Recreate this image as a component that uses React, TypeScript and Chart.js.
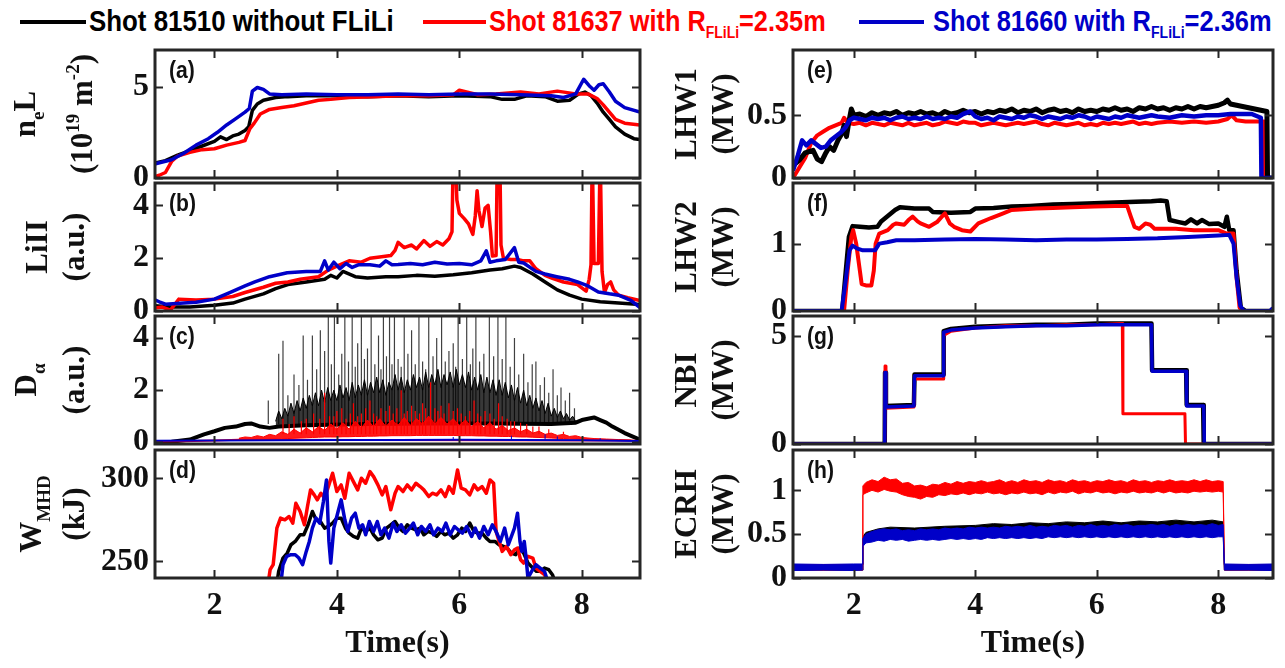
import React, { useEffect, useLayoutEffect, useRef } from 'react';
import { Chart, registerables } from 'chart.js';
Chart.register(...registerables);

// ---------------- DATA ----------------
const SHOTS = ['81510', '81637', '81660'];
const X_TICKS = [2, 4, 6, 8];

// (a) line-integrated density n_eL (10^19 m^-2)
const neL_81510 = [[1.0,0.8],[1.2,0.95],[1.4,1.25],[1.6,1.5],[1.8,1.75],[2.0,2.0],[2.1,2.25],[2.2,2.1],[2.3,2.3],[2.4,2.4],[2.5,2.6],[2.56,2.8],[2.62,3.7],[2.7,4.05],[2.8,4.25],[3.0,4.4],[3.2,4.45],[3.5,4.5],[4.0,4.5],[4.5,4.45],[5.0,4.5],[5.5,4.45],[6.0,4.5],[6.5,4.45],[6.7,4.3],[6.9,4.3],[7.1,4.5],[7.4,4.45],[7.6,4.2],[7.8,4.25],[7.95,4.6],[8.05,4.7],[8.15,4.5],[8.25,4.1],[8.35,3.6],[8.45,3.2],[8.55,2.8],[8.7,2.4],[8.85,2.15],[8.95,2.1]];
const neL_81637 = [[1.0,0.05],[1.1,0.15],[1.2,0.3],[1.3,0.9],[1.4,1.2],[1.6,1.4],[1.8,1.55],[2.0,1.6],[2.2,1.8],[2.4,1.95],[2.5,2.05],[2.58,2.7],[2.65,3.0],[2.75,3.5],[2.9,3.75],[3.1,3.85],[3.3,3.95],[3.5,4.1],[3.7,4.25],[3.9,4.3],[4.2,4.4],[4.6,4.45],[5.0,4.5],[5.5,4.5],[5.9,4.55],[6.0,4.8],[6.3,4.55],[6.6,4.6],[7.0,4.7],[7.3,4.6],[7.6,4.75],[7.9,4.6],[8.1,4.6],[8.25,4.35],[8.35,4.0],[8.45,3.6],[8.55,3.2],[8.7,3.0],[8.95,2.9]];
const neL_81660 = [[1.0,0.75],[1.3,1.0],[1.5,1.35],[1.7,1.8],[1.9,2.15],[2.05,2.5],[2.2,2.9],[2.35,3.25],[2.5,3.6],[2.57,3.8],[2.62,4.75],[2.7,4.95],[2.8,4.85],[2.9,4.6],[3.1,4.55],[3.5,4.6],[4.0,4.55],[4.5,4.55],[5.0,4.6],[5.5,4.55],[6.0,4.6],[6.5,4.6],[7.0,4.55],[7.5,4.5],[7.7,4.4],[7.9,4.6],[8.03,5.4],[8.12,5.05],[8.2,4.8],[8.28,5.1],[8.35,5.15],[8.45,4.7],[8.55,4.2],[8.7,3.85],[8.95,3.6]];

// (b) LiII (a.u.)
const liII_81510 = [[1.0,0.2],[1.3,0.15],[1.6,0.15],[2.0,0.22],[2.3,0.3],[2.5,0.45],[2.8,0.65],[3.0,0.85],[3.2,1.0],[3.5,1.1],[3.8,1.2],[3.9,1.35],[4.0,1.25],[4.1,1.5],[4.3,1.3],[4.5,1.25],[4.8,1.3],[5.0,1.3],[5.3,1.35],[5.6,1.32],[5.9,1.37],[6.2,1.45],[6.5,1.55],[6.7,1.6],[6.9,1.7],[7.0,1.65],[7.2,1.4],[7.4,1.1],[7.6,0.8],[7.8,0.6],[8.0,0.45],[8.3,0.35],[8.6,0.3],[8.95,0.25]];
const liII_81637 = [[1.0,0.1],[1.15,0.15],[1.28,0.03],[1.42,0.45],[1.7,0.42],[2.0,0.45],[2.3,0.55],[2.5,0.7],[2.8,0.9],[3.0,1.05],[3.2,1.1],[3.4,1.2],[3.55,1.25],[3.7,1.3],[3.86,1.55],[4.0,1.7],[4.2,1.9],[4.4,1.85],[4.54,2.0],[4.7,2.05],[4.88,2.1],[4.95,2.3],[5.0,2.6],[5.1,2.4],[5.22,2.5],[5.3,2.35],[5.42,2.67],[5.52,2.45],[5.63,2.63],[5.73,2.5],[5.83,2.74],[5.88,3.0],[5.9,6],[5.93,6],[5.96,4.2],[6.0,3.7],[6.08,3.5],[6.15,3.3],[6.22,2.9],[6.26,3.6],[6.29,4.56],[6.32,3.8],[6.37,3.2],[6.42,3.9],[6.47,4.0],[6.51,3.0],[6.54,2.08],[6.6,2.1],[6.62,6],[6.66,6],[6.68,2.5],[6.72,2.0],[6.84,1.95],[6.95,1.95],[7.05,1.9],[7.15,1.9],[7.25,1.6],[7.4,1.35],[7.52,1.24],[7.7,1.1],[7.93,1.0],[8.07,0.75],[8.12,1.2],[8.15,1.75],[8.17,6],[8.2,1.8],[8.27,1.8],[8.3,6],[8.33,1.5],[8.37,0.7],[8.42,1.0],[8.47,1.1],[8.52,0.8],[8.6,0.6],[8.75,0.5],[8.95,0.4]];
const liII_81660 = [[1.0,0.45],[1.1,0.35],[1.2,0.26],[1.5,0.3],[1.7,0.33],[2.0,0.45],[2.25,0.7],[2.5,0.95],[2.66,1.1],[2.9,1.3],[3.19,1.45],[3.5,1.5],[3.73,1.5],[3.8,1.9],[3.86,1.55],[3.95,1.85],[4.05,1.6],[4.15,1.8],[4.25,1.65],[4.35,1.75],[4.54,1.75],[4.7,1.7],[4.8,1.9],[4.9,1.75],[5.0,1.76],[5.2,1.8],[5.4,1.75],[5.6,1.85],[5.8,1.78],[6.0,1.8],[6.2,1.75],[6.35,1.9],[6.44,2.28],[6.5,1.85],[6.6,1.9],[6.75,1.95],[6.9,2.4],[6.97,1.85],[7.05,1.82],[7.25,1.5],[7.4,1.4],[7.59,1.3],[7.8,1.2],[7.93,1.1],[8.1,0.95],[8.27,0.72],[8.45,0.65],[8.6,0.6],[8.8,0.4],[8.95,0.13]];

// (c) D-alpha (a.u.): baseline, dense ELM band [t, low, high], tall spikes [t, peak]
const dA_81510_base = [[1.0,0.0],[1.3,0.02],[1.6,0.1],[1.83,0.3],[2.0,0.42],[2.17,0.55],[2.35,0.6],[2.5,0.7],[2.6,0.72],[2.75,0.6],[2.9,0.55],[3.05,0.6],[3.5,0.65],[4.5,0.7],[5.5,0.72],[6.5,0.72],[7.5,0.7],[7.9,0.75],[8.0,0.85],[8.1,0.9],[8.2,0.95],[8.3,0.85],[8.4,0.75],[8.5,0.6],[8.7,0.35],[8.95,0.1]];
const dA_81510_core = [[3.0,0.6,0.8],[3.05,0.6,1.2],[3.1,0.6,0.9],[3.15,0.6,1.3],[3.2,0.6,1.0],[3.25,0.62,1.5],[3.3,0.62,1.1],[3.35,0.62,1.6],[3.4,0.63,1.2],[3.45,0.63,1.7],[3.5,0.64,1.3],[3.55,0.64,1.8],[3.6,0.65,1.4],[3.65,0.65,1.9],[3.7,0.66,1.4],[3.75,0.66,2.0],[3.8,0.66,1.5],[3.85,0.67,2.1],[3.9,0.67,1.6],[3.95,0.68,2.0],[4.0,0.68,1.6],[4.05,0.68,2.2],[4.1,0.69,1.7],[4.15,0.69,2.1],[4.2,0.7,1.6],[4.25,0.7,2.3],[4.3,0.7,1.7],[4.35,0.7,2.2],[4.4,0.7,1.8],[4.45,0.7,2.4],[4.5,0.7,1.8],[4.55,0.7,2.3],[4.6,0.7,1.9],[4.65,0.7,2.5],[4.7,0.7,1.9],[4.75,0.7,2.4],[4.8,0.7,1.8],[4.85,0.7,2.3],[4.9,0.7,2.0],[4.95,0.71,2.6],[5.0,0.71,2.0],[5.05,0.71,2.5],[5.1,0.72,1.9],[5.15,0.72,2.4],[5.2,0.72,2.0],[5.25,0.72,2.6],[5.3,0.72,2.1],[5.35,0.72,2.5],[5.4,0.72,2.0],[5.45,0.72,2.7],[5.5,0.72,2.1],[5.55,0.72,2.6],[5.6,0.72,2.2],[5.65,0.72,2.8],[5.7,0.72,2.1],[5.75,0.72,2.6],[5.8,0.72,2.2],[5.85,0.72,2.7],[5.9,0.72,2.1],[5.95,0.72,2.8],[6.0,0.72,2.2],[6.05,0.72,2.6],[6.1,0.72,2.1],[6.15,0.72,2.7],[6.2,0.72,2.0],[6.25,0.72,2.5],[6.3,0.72,2.0],[6.35,0.72,2.6],[6.4,0.72,1.9],[6.45,0.72,2.5],[6.5,0.72,1.9],[6.55,0.72,2.4],[6.6,0.72,1.8],[6.65,0.72,2.4],[6.7,0.71,1.8],[6.75,0.71,2.3],[6.8,0.71,1.7],[6.85,0.71,2.2],[6.9,0.7,1.6],[6.95,0.7,2.1],[7.0,0.7,1.5],[7.05,0.7,2.0],[7.1,0.7,1.4],[7.15,0.7,1.8],[7.2,0.7,1.3],[7.25,0.7,1.7],[7.3,0.7,1.2],[7.35,0.7,1.6],[7.4,0.7,1.1],[7.45,0.7,1.5],[7.5,0.7,1.0],[7.55,0.7,1.3],[7.6,0.7,0.95],[7.65,0.7,1.2],[7.7,0.71,0.9],[7.75,0.72,1.1],[7.8,0.72,0.85],[7.85,0.73,1.0],[7.9,0.74,0.8],[7.95,0.75,0.8]];
const dA_81510_spikes = [[2.88,1.6],[3.05,3.4],[3.12,3.9],[3.2,1.8],[3.3,2.6],[3.38,2.2],[3.45,4.1],[3.52,2.4],[3.6,4.1],[3.67,2.8],[3.73,4.3],[3.8,3.5],[3.86,5],[3.91,3.0],[3.96,5],[4.03,2.6],[4.08,3.4],[4.13,5],[4.19,3.1],[4.25,5],[4.3,2.9],[4.34,3.8],[4.4,5],[4.45,3.2],[4.5,3.6],[4.56,5],[4.62,3.0],[4.68,4.1],[4.72,2.8],[4.76,5],[4.81,3.3],[4.86,5],[4.9,3.0],[4.94,5],[5.0,3.2],[5.05,2.9],[5.1,5],[5.16,3.4],[5.22,4.3],[5.28,3.0],[5.34,5],[5.4,3.1],[5.45,2.8],[5.5,5],[5.57,3.3],[5.63,4.0],[5.71,5],[5.77,3.1],[5.83,3.5],[5.9,3.8],[5.94,2.9],[5.98,5],[6.05,3.2],[6.12,5],[6.18,3.0],[6.22,3.6],[6.27,5],[6.33,3.1],[6.4,3.4],[6.49,5],[6.56,3.3],[6.63,5],[6.7,3.2],[6.76,5],[6.83,2.9],[6.9,4.0],[6.97,2.6],[7.05,3.4],[7.12,2.3],[7.19,3.0],[7.25,3.1],[7.32,2.2],[7.39,2.5],[7.46,1.9],[7.53,2.8],[7.6,1.8],[7.66,2.1],[7.73,1.6],[7.8,1.9],[7.88,1.3]];
const dA_81637_base = [[1.0,0.03],[1.5,0.04],[2.0,0.06],[2.4,0.09],[8.8,0.06],[8.95,0.04]];
const dA_81637_core = [[2.4,0.08,0.15],[2.5,0.08,0.2],[2.6,0.09,0.18],[2.7,0.1,0.25],[2.8,0.1,0.2],[2.9,0.11,0.3],[3.0,0.12,0.25],[3.1,0.13,0.4],[3.2,0.14,0.3],[3.3,0.15,0.5],[3.4,0.16,0.35],[3.5,0.17,0.55],[3.6,0.18,0.4],[3.7,0.19,0.6],[3.8,0.2,0.45],[3.9,0.2,0.7],[4.0,0.2,0.5],[4.1,0.21,0.75],[4.2,0.21,0.5],[4.3,0.22,0.8],[4.4,0.22,0.55],[4.5,0.23,0.85],[4.6,0.23,0.6],[4.7,0.24,0.9],[4.8,0.24,0.6],[4.9,0.25,0.85],[5.0,0.25,0.65],[5.1,0.25,0.95],[5.2,0.25,0.65],[5.3,0.26,0.9],[5.4,0.26,0.7],[5.5,0.26,1.0],[5.6,0.26,0.7],[5.7,0.26,0.95],[5.8,0.26,0.7],[5.9,0.26,0.9],[6.0,0.25,0.65],[6.1,0.25,0.85],[6.2,0.25,0.6],[6.3,0.24,0.8],[6.4,0.24,0.55],[6.5,0.23,0.75],[6.6,0.23,0.5],[6.7,0.22,0.65],[6.8,0.22,0.45],[6.9,0.21,0.55],[7.0,0.2,0.4],[7.1,0.2,0.5],[7.2,0.19,0.35],[7.3,0.18,0.42],[7.4,0.17,0.3],[7.5,0.16,0.35],[7.6,0.15,0.26],[7.7,0.14,0.3],[7.8,0.13,0.22],[7.9,0.12,0.25],[8.0,0.11,0.18],[8.2,0.09,0.14],[8.4,0.08,0.12],[8.6,0.06,0.1],[8.8,0.05,0.08]];
const dA_81637_spikes = [[3.12,0.9],[3.22,0.7],[3.3,1.0],[3.42,0.8],[3.5,0.9],[3.62,1.1],[3.72,0.9],[3.8,1.9],[3.88,1.0],[3.95,1.0],[4.0,1.2],[4.08,1.3],[4.15,0.9],[4.22,1.1],[4.27,1.5],[4.34,1.0],[4.4,1.1],[4.47,1.3],[4.54,1.6],[4.6,1.1],[4.65,1.0],[4.72,1.3],[4.8,1.2],[4.86,1.4],[4.92,1.1],[4.98,1.3],[5.05,2.0],[5.1,1.1],[5.15,1.2],[5.22,1.4],[5.28,1.2],[5.35,1.1],[5.4,1.5],[5.45,1.3],[5.53,2.3],[5.6,1.3],[5.65,1.2],[5.7,1.4],[5.75,1.1],[5.83,1.5],[5.9,1.2],[5.97,1.3],[6.03,1.1],[6.1,1.0],[6.17,1.2],[6.24,1.6],[6.3,1.1],[6.35,1.0],[6.42,1.2],[6.5,1.1],[6.57,0.9],[6.64,1.5],[6.7,1.0],[6.78,0.9],[6.84,0.8],[6.9,0.8],[7.0,0.75],[7.1,0.7],[7.2,0.6],[7.3,0.6],[7.46,0.5],[7.7,0.4]];
const dA_81660_base = [[1.0,0.05],[2.0,0.06],[3.0,0.07],[4.0,0.08],[5.0,0.08],[6.0,0.09],[7.0,0.08],[8.0,0.07],[8.95,0.05]];
const dA_81660_spikes = [[5.9,0.2],[6.85,0.25],[7.4,0.3],[7.6,0.22],[8.3,0.15]];

// (d) W_MHD (kJ)
const wmhd_81510 = [[3.0,232],[3.05,244],[3.12,252],[3.19,255],[3.25,260],[3.32,262],[3.4,266],[3.46,266],[3.53,272],[3.6,280],[3.66,275],[3.73,274],[3.8,270],[3.86,271],[3.93,273],[4.0,276],[4.07,276],[4.14,270],[4.2,267],[4.27,265],[4.34,264],[4.4,270],[4.47,268],[4.54,270],[4.6,266],[4.67,263],[4.74,264],[4.81,270],[4.88,272],[4.95,274],[5.02,270],[5.08,268],[5.15,272],[5.22,270],[5.29,269],[5.36,270],[5.42,266],[5.49,268],[5.56,267],[5.63,265],[5.7,268],[5.76,266],[5.83,267],[5.9,264],[5.97,266],[6.04,270],[6.1,268],[6.17,273],[6.24,268],[6.3,267],[6.37,267],[6.44,264],[6.5,262],[6.58,262],[6.65,260],[6.72,259],[6.78,258],[6.85,255],[6.92,254],[6.98,258],[7.05,255],[7.12,249],[7.2,246],[7.26,244],[7.32,244],[7.39,246],[7.46,245],[7.52,242],[7.58,236]];
const wmhd_81637 = [[2.85,230],[2.91,245],[2.96,248],[3.02,270],[3.08,276],[3.15,275],[3.22,277],[3.28,273],[3.33,285],[3.4,280],[3.47,272],[3.52,283],[3.57,293],[3.63,290],[3.68,287],[3.74,291],[3.8,288],[3.87,296],[3.93,303],[4.0,292],[4.07,296],[4.13,288],[4.2,303],[4.27,298],[4.34,293],[4.4,300],[4.47,297],[4.54,304],[4.6,301],[4.67,296],[4.74,290],[4.8,295],[4.88,281],[4.95,291],[5.0,295],[5.08,292],[5.15,296],[5.22,293],[5.29,297],[5.36,295],[5.42,293],[5.5,289],[5.56,291],[5.63,290],[5.7,293],[5.77,289],[5.83,295],[5.9,291],[5.97,305],[6.03,294],[6.1,293],[6.17,290],[6.24,296],[6.3,293],[6.37,295],[6.44,291],[6.5,299],[6.56,297],[6.6,268],[6.65,262],[6.7,256],[6.77,259],[6.84,254],[6.9,257],[6.95,258],[7.0,251],[7.05,249],[7.12,253],[7.2,252],[7.25,246],[7.32,244],[7.39,242],[7.46,236]];
const wmhd_81660 = [[3.08,235],[3.12,248],[3.18,253],[3.25,254],[3.32,254],[3.38,252],[3.44,248],[3.5,256],[3.55,262],[3.6,270],[3.66,276],[3.72,273],[3.78,286],[3.83,299],[3.87,262],[3.9,249],[3.95,270],[4.02,280],[4.07,287],[4.13,275],[4.18,268],[4.24,276],[4.3,279],[4.36,270],[4.42,272],[4.47,266],[4.53,274],[4.6,268],[4.66,274],[4.72,266],[4.78,270],[4.85,264],[4.92,273],[4.98,268],[5.05,272],[5.12,267],[5.19,270],[5.25,273],[5.32,266],[5.38,271],[5.45,268],[5.52,272],[5.58,266],[5.65,270],[5.72,268],[5.78,273],[5.85,266],[5.92,271],[5.98,269],[6.05,267],[6.12,271],[6.2,265],[6.26,270],[6.33,264],[6.4,271],[6.47,266],[6.54,272],[6.6,268],[6.67,262],[6.74,270],[6.8,260],[6.84,264],[6.9,270],[6.95,279],[6.99,262],[7.02,256],[7.06,262],[7.09,252],[7.12,240],[7.18,244],[7.25,248],[7.32,246],[7.39,244],[7.46,236]];

// (e) LHW1 (MW)
const lhw1_81510 = [[1.0,0.1],[1.1,0.14],[1.2,0.2],[1.33,0.22],[1.4,0.15],[1.47,0.13],[1.54,0.2],[1.6,0.25],[1.67,0.22],[1.74,0.3],[1.8,0.35],[1.84,0.42],[1.88,0.33],[1.92,0.45],[1.96,0.55],[2.0,0.5],[2.1,0.51],[2.2,0.49],[2.3,0.52],[2.4,0.5],[2.5,0.52],[2.6,0.51],[2.7,0.53],[2.8,0.5],[2.9,0.52],[3.0,0.51],[3.1,0.53],[3.2,0.51],[3.3,0.52],[3.4,0.5],[3.5,0.53],[3.6,0.51],[3.7,0.52],[3.8,0.54],[3.9,0.52],[4.0,0.53],[4.1,0.51],[4.2,0.53],[4.3,0.52],[4.4,0.54],[4.5,0.53],[4.6,0.55],[4.7,0.52],[4.8,0.54],[4.9,0.53],[5.0,0.55],[5.1,0.52],[5.2,0.54],[5.3,0.55],[5.4,0.53],[5.5,0.54],[5.6,0.52],[5.7,0.55],[5.8,0.53],[5.9,0.54],[6.0,0.53],[6.1,0.55],[6.2,0.54],[6.3,0.56],[6.4,0.54],[6.5,0.55],[6.6,0.53],[6.7,0.56],[6.8,0.55],[6.9,0.57],[7.0,0.55],[7.1,0.56],[7.2,0.54],[7.3,0.56],[7.4,0.55],[7.5,0.57],[7.6,0.55],[7.7,0.57],[7.8,0.56],[7.9,0.57],[8.0,0.58],[8.1,0.6],[8.15,0.62],[8.2,0.59],[8.3,0.58],[8.4,0.57],[8.5,0.56],[8.6,0.55],[8.7,0.54],[8.8,0.53],[8.81,0.0],[8.9,0.0]];
const lhw1_81637 = [[1.0,0.0],[1.1,0.08],[1.2,0.16],[1.3,0.28],[1.4,0.34],[1.5,0.37],[1.6,0.4],[1.7,0.42],[1.8,0.44],[1.84,0.48],[1.9,0.44],[2.0,0.43],[2.1,0.44],[2.2,0.42],[2.3,0.44],[2.4,0.43],[2.5,0.42],[2.6,0.44],[2.7,0.43],[2.8,0.42],[2.9,0.44],[3.0,0.42],[3.1,0.43],[3.2,0.44],[3.3,0.42],[3.4,0.43],[3.5,0.45],[3.6,0.44],[3.7,0.43],[3.8,0.45],[3.9,0.44],[4.0,0.44],[4.1,0.42],[4.2,0.43],[4.3,0.44],[4.4,0.43],[4.5,0.42],[4.6,0.43],[4.7,0.44],[4.8,0.43],[4.9,0.44],[5.0,0.45],[5.1,0.43],[5.2,0.42],[5.3,0.44],[5.4,0.43],[5.5,0.42],[5.6,0.43],[5.7,0.44],[5.8,0.42],[5.9,0.43],[6.0,0.42],[6.1,0.44],[6.2,0.43],[6.3,0.44],[6.4,0.43],[6.5,0.44],[6.6,0.45],[6.7,0.43],[6.8,0.44],[6.9,0.43],[7.0,0.44],[7.2,0.45],[7.4,0.44],[7.6,0.45],[7.8,0.44],[8.0,0.45],[8.15,0.47],[8.22,0.5],[8.3,0.46],[8.45,0.45],[8.6,0.45],[8.76,0.45],[8.77,0.0],[8.9,0.0]];
const lhw1_81660 = [[1.0,0.06],[1.08,0.18],[1.15,0.3],[1.22,0.26],[1.3,0.3],[1.38,0.27],[1.46,0.24],[1.54,0.25],[1.62,0.3],[1.7,0.33],[1.78,0.36],[1.86,0.4],[1.93,0.46],[2.0,0.48],[2.1,0.47],[2.2,0.46],[2.3,0.48],[2.4,0.47],[2.5,0.48],[2.6,0.46],[2.7,0.48],[2.8,0.49],[2.9,0.47],[3.0,0.48],[3.1,0.47],[3.2,0.49],[3.3,0.47],[3.4,0.48],[3.5,0.47],[3.6,0.49],[3.7,0.48],[3.8,0.51],[3.92,0.53],[4.0,0.49],[4.1,0.47],[4.2,0.48],[4.3,0.46],[4.4,0.49],[4.5,0.48],[4.6,0.47],[4.7,0.49],[4.8,0.48],[4.9,0.5],[5.0,0.49],[5.1,0.47],[5.2,0.49],[5.3,0.48],[5.4,0.47],[5.5,0.49],[5.6,0.48],[5.7,0.5],[5.8,0.49],[5.9,0.47],[6.0,0.49],[6.1,0.48],[6.2,0.47],[6.3,0.49],[6.4,0.48],[6.5,0.5],[6.6,0.49],[6.7,0.48],[6.8,0.49],[6.9,0.5],[7.0,0.49],[7.2,0.48],[7.4,0.5],[7.6,0.49],[7.8,0.5],[8.0,0.5],[8.2,0.51],[8.4,0.51],[8.55,0.51],[8.7,0.48],[8.71,0.0],[8.9,0.0]];

// (f) LHW2 (MW)
const lhw2_81510 = [[1.0,0],[1.81,0],[1.86,0.5],[1.92,1.1],[1.98,1.26],[2.1,1.25],[2.25,1.24],[2.39,1.25],[2.45,1.33],[2.56,1.41],[2.68,1.5],[2.76,1.54],[3.0,1.52],[3.24,1.52],[3.3,1.47],[3.6,1.46],[3.92,1.47],[4.0,1.52],[4.3,1.53],[4.6,1.55],[4.9,1.56],[5.28,1.58],[5.6,1.59],[5.96,1.6],[6.3,1.61],[6.64,1.62],[6.9,1.63],[7.05,1.64],[7.15,1.63],[7.2,1.35],[7.35,1.32],[7.46,1.3],[7.55,1.36],[7.65,1.3],[7.73,1.35],[7.85,1.29],[8.0,1.3],[8.1,1.25],[8.14,1.4],[8.18,1.2],[8.25,1.2],[8.3,0.6],[8.37,0.05],[8.45,0],[8.9,0]];
const lhw2_81637 = [[1.0,0],[1.84,0],[1.9,0.6],[1.96,1.1],[1.99,1.2],[2.04,1.0],[2.1,0.6],[2.13,0.4],[2.2,0.38],[2.29,0.38],[2.33,0.6],[2.36,1.0],[2.42,1.15],[2.56,1.2],[2.65,1.28],[2.7,1.3],[2.83,1.28],[2.9,1.35],[2.97,1.4],[3.05,1.33],[3.1,1.3],[3.24,1.25],[3.37,1.32],[3.45,1.4],[3.5,1.45],[3.58,1.3],[3.65,1.25],[3.78,1.2],[3.92,1.18],[4.05,1.3],[4.26,1.38],[4.46,1.45],[4.6,1.5],[4.8,1.51],[5.0,1.52],[5.28,1.53],[5.6,1.54],[5.96,1.55],[6.3,1.56],[6.5,1.56],[6.56,1.4],[6.62,1.25],[6.7,1.22],[6.8,1.3],[6.88,1.28],[6.95,1.22],[7.05,1.22],[7.3,1.22],[7.6,1.2],[8.0,1.2],[8.14,1.15],[8.25,1.15],[8.3,0.5],[8.35,0.05],[8.4,0],[8.9,0]];
const lhw2_81660 = [[1.0,0],[1.8,0],[1.86,0.4],[1.93,0.9],[1.98,0.97],[2.05,0.93],[2.15,0.9],[2.35,0.9],[2.42,1.0],[2.55,1.02],[2.7,1.05],[3.0,1.05],[3.5,1.06],[4.0,1.07],[4.5,1.06],[5.0,1.05],[5.5,1.06],[6.0,1.06],[6.5,1.07],[7.0,1.08],[7.5,1.1],[8.0,1.12],[8.18,1.13],[8.25,1.0],[8.3,0.5],[8.36,0.08],[8.42,0],[8.85,0],[8.88,0.03],[8.9,0]];

// (g) NBI (MW)
const nbi_81510 = [[1.0,0],[2.51,0],[2.515,3.3],[2.53,1.75],[2.99,1.8],[3.0,3.2],[3.47,3.2],[3.48,5.2],[3.6,5.3],[4.0,5.4],[4.5,5.45],[5.0,5.5],[5.5,5.5],[6.0,5.55],[6.5,5.55],[6.9,5.55],[6.91,3.4],[7.47,3.4],[7.48,1.8],[7.75,1.8],[7.76,0],[8.9,0]];
const nbi_81637 = [[1.0,0],[2.51,0],[2.515,3.6],[2.53,1.65],[2.99,1.7],[3.0,3.0],[3.47,3.0],[3.48,5.0],[3.6,5.2],[4.0,5.35],[4.5,5.45],[5.0,5.45],[5.5,5.5],[6.0,5.5],[6.42,5.55],[6.43,1.4],[7.45,1.4],[7.46,0],[8.9,0]];
const nbi_81660 = [[1.0,0],[2.51,0],[2.515,3.3],[2.53,1.7],[2.99,1.75],[3.0,3.15],[3.47,3.15],[3.48,5.15],[3.6,5.25],[4.0,5.35],[4.5,5.4],[5.0,5.45],[5.5,5.45],[6.0,5.5],[6.5,5.5],[6.9,5.5],[6.91,3.35],[7.47,3.35],[7.48,1.75],[7.76,1.75],[7.77,0],[8.9,0]];

// (h) ECRH (MW): noisy band [t, low, high]
const ecrh_81510 = [[1.0,0.09,0.15],[2.14,0.09,0.15],[2.15,0.38,0.47],[2.2,0.42,0.52],[2.4,0.44,0.56],[2.6,0.46,0.58],[3.0,0.45,0.57],[3.5,0.46,0.59],[4.0,0.47,0.6],[4.3,0.47,0.62],[4.6,0.48,0.61],[4.9,0.49,0.63],[5.2,0.49,0.62],[5.5,0.5,0.64],[5.8,0.5,0.63],[6.1,0.5,0.65],[6.4,0.51,0.63],[6.7,0.51,0.65],[7.0,0.51,0.64],[7.3,0.52,0.66],[7.6,0.52,0.64],[7.9,0.52,0.66],[8.08,0.52,0.64],[8.1,0.09,0.15],[8.9,0.09,0.15]];
const ecrh_81637 = [[1.0,0.09,0.15],[2.14,0.09,0.15],[2.15,0.95,1.05],[2.2,0.97,1.09],[2.3,1.0,1.12],[2.4,0.98,1.1],[2.5,1.01,1.15],[2.6,0.99,1.12],[2.7,0.98,1.13],[2.8,0.95,1.08],[2.9,0.93,1.09],[3.0,0.92,1.05],[3.1,0.9,1.06],[3.2,0.93,1.04],[3.3,0.92,1.07],[3.4,0.95,1.06],[3.5,0.94,1.09],[3.6,0.96,1.07],[3.7,0.95,1.1],[3.8,0.97,1.08],[3.9,0.95,1.1],[4.0,0.97,1.09],[4.1,0.96,1.11],[4.2,0.98,1.09],[4.3,0.96,1.1],[4.4,0.97,1.12],[4.5,0.95,1.09],[4.6,0.97,1.11],[4.7,0.96,1.09],[4.8,0.98,1.12],[4.9,0.96,1.1],[5.0,0.97,1.11],[5.1,0.95,1.09],[5.2,0.98,1.12],[5.3,0.96,1.1],[5.4,0.98,1.11],[5.5,0.97,1.09],[5.6,0.99,1.12],[5.7,0.96,1.1],[5.8,0.98,1.11],[5.9,0.97,1.09],[6.0,0.99,1.11],[6.1,0.97,1.1],[6.2,0.98,1.12],[6.3,0.96,1.1],[6.4,0.98,1.11],[6.5,0.97,1.09],[6.6,0.99,1.12],[6.7,0.97,1.1],[6.8,0.98,1.11],[6.9,0.97,1.09],[7.0,0.99,1.11],[7.1,0.97,1.1],[7.2,0.99,1.12],[7.3,0.97,1.1],[7.4,0.98,1.11],[7.5,0.97,1.1],[7.6,0.99,1.12],[7.7,0.98,1.1],[7.8,0.99,1.12],[7.9,0.98,1.1],[8.0,0.99,1.11],[8.08,0.98,1.1],[8.1,0.09,0.15],[8.9,0.09,0.15]];
const ecrh_81660 = [[1.0,0.085,0.16],[1.5,0.09,0.155],[2.0,0.085,0.16],[2.14,0.09,0.16],[2.15,0.36,0.45],[2.2,0.4,0.5],[2.3,0.41,0.53],[2.4,0.43,0.55],[2.5,0.42,0.56],[2.6,0.44,0.55],[2.7,0.43,0.56],[2.8,0.44,0.54],[2.9,0.42,0.55],[3.0,0.43,0.54],[3.1,0.44,0.56],[3.2,0.43,0.55],[3.3,0.44,0.56],[3.4,0.43,0.55],[3.5,0.44,0.57],[3.6,0.45,0.56],[3.7,0.44,0.57],[3.8,0.45,0.56],[3.9,0.44,0.58],[4.0,0.45,0.57],[4.1,0.44,0.58],[4.2,0.46,0.57],[4.3,0.45,0.58],[4.4,0.46,0.57],[4.5,0.45,0.59],[4.6,0.46,0.58],[4.7,0.45,0.59],[4.8,0.46,0.58],[4.9,0.45,0.6],[5.0,0.46,0.58],[5.1,0.45,0.59],[5.2,0.47,0.58],[5.3,0.46,0.6],[5.4,0.47,0.59],[5.5,0.46,0.6],[5.6,0.47,0.58],[5.7,0.46,0.6],[5.8,0.47,0.59],[5.9,0.46,0.61],[6.0,0.47,0.59],[6.1,0.46,0.6],[6.2,0.47,0.59],[6.3,0.46,0.61],[6.4,0.47,0.6],[6.5,0.46,0.61],[6.6,0.47,0.59],[6.7,0.46,0.6],[6.8,0.47,0.6],[6.9,0.46,0.61],[7.0,0.47,0.6],[7.1,0.46,0.61],[7.2,0.47,0.59],[7.3,0.46,0.61],[7.4,0.47,0.6],[7.5,0.46,0.61],[7.6,0.47,0.6],[7.7,0.46,0.61],[7.8,0.47,0.6],[7.9,0.46,0.62],[8.0,0.47,0.6],[8.08,0.47,0.61],[8.1,0.09,0.16],[8.5,0.09,0.155],[8.9,0.085,0.16]];

// ---------------- STYLE / LAYOUT ----------------
const BLACK = '#000000';
const RED = '#ff0000';
const BLUE = '#0000c8';
const FRAME = '#262626';
const TEXT = '#111111';
const SERIF = '"Liberation Serif", "Times New Roman", serif';
const SANS = '"Liberation Sans", Arial, sans-serif';

const COLS = [
  { left: 0, plotLeft: 155, plotRight: 640, xMin: 1.03, xMax: 8.95, titleX: [47, 84] },
  { left: 645, plotLeft: 793, plotRight: 1273, xMin: 1.0, xMax: 8.9, titleX: [51, 88] },
];
const ROWS = [
  { top: 50, bottom: 178 },
  { top: 183, bottom: 311 },
  { top: 316, bottom: 444 },
  { top: 450, bottom: 578 },
];
const VPAD = 24;
const RPAD = 6;
const X_AXIS_H = 85;
const TICK_LEN = 8;
const TITLE_SIZE = 31;
const TICK_SIZE = 32;

type Seg = { t: string; s?: 'sub' | 'sup' };

const pts = (arr: number[][]) => arr.map((p) => ({ x: p[0], y: p[1] }));

function lineDs(arr: number[][], color: string, width: number, order: number) {
  return { data: pts(arr), borderColor: color, backgroundColor: color, borderWidth: width, pointRadius: 0, tension: 0, fill: false, order, borderJoinStyle: 'round' };
}
function spikeDs(arr: number[][], base: number, color: string, width: number, order: number) {
  const data: any[] = [];
  arr.forEach((p) => {
    data.push({ x: p[0], y: base }, { x: p[0], y: p[1] }, { x: p[0], y: null });
  });
  return { data, borderColor: color, borderWidth: width, pointRadius: 0, tension: 0, fill: false, spanGaps: false, order };
}
function bandDs(arr: number[][], color: string, fillColor: string, order: number, edge = 1) {
  return [
    { data: arr.map((p) => ({ x: p[0], y: p[1] })), borderColor: color, borderWidth: edge, pointRadius: 0, tension: 0, fill: false, order },
    { data: arr.map((p) => ({ x: p[0], y: p[2] })), borderColor: color, backgroundColor: fillColor, borderWidth: edge, pointRadius: 0, tension: 0, fill: '-1', order },
  ];
}

const PANELS: any[] = [
  {
    label: '(a)', col: 0, row: 0, yMin: 0, yMax: 7, yTicks: [0, 5], titleX: [35, 92],
    title: [[{ t: 'n' }, { t: 'e', s: 'sub' }, { t: 'L' }], [{ t: '(10' }, { t: '19', s: 'sup' }, { t: ' m' }, { t: '-2', s: 'sup' }, { t: ')' }]],
    datasets: () => [lineDs(neL_81510, BLACK, 3.5, 3), lineDs(neL_81637, RED, 3.5, 2), lineDs(neL_81660, BLUE, 3.5, 1)],
  },
  {
    label: '(b)', col: 0, row: 1, yMin: 0, yMax: 4.85, yTicks: [0, 2, 4],
    title: [[{ t: 'LiII' }], [{ t: '(a.u.)' }]],
    datasets: () => [lineDs(liII_81510, BLACK, 3.5, 3), lineDs(liII_81637, RED, 3.5, 2), lineDs(liII_81660, BLUE, 3.5, 1)],
  },
  {
    label: '(c)', col: 0, row: 2, yMin: -0.07, yMax: 4.85, yTicks: [0, 2, 4], titleX: [36, 84],
    title: [[{ t: 'D' }, { t: 'α', s: 'sub' }], [{ t: '(a.u.)' }]],
    datasets: () => [
      lineDs(dA_81510_base, BLACK, 4, 6),
      ...bandDs(dA_81510_core, BLACK, 'rgba(0,0,0,0.78)', 5),
      spikeDs(dA_81510_spikes, 0.7, 'rgba(0,0,0,0.75)', 1.2, 4),
      lineDs(dA_81637_base, RED, 2, 3),
      ...bandDs(dA_81637_core, RED, 'rgba(255,0,0,0.9)', 3),
      spikeDs(dA_81637_spikes, 0.3, RED, 1.2, 2),
      lineDs(dA_81660_base, BLUE, 2, 1),
      spikeDs(dA_81660_spikes, 0.08, BLUE, 1, 1),
    ],
  },
  {
    label: '(d)', col: 0, row: 3, yMin: 240, yMax: 317, yTicks: [250, 300], titleX: [41, 84],
    title: [[{ t: 'W' }, { t: 'MHD', s: 'sub' }], [{ t: '(kJ)' }]],
    datasets: () => [lineDs(wmhd_81510, BLACK, 3.5, 3), lineDs(wmhd_81637, RED, 3.5, 2), lineDs(wmhd_81660, BLUE, 3.5, 1)],
  },
  {
    label: '(e)', col: 1, row: 0, yMin: 0, yMax: 1.02, yTicks: [0, 0.5],
    title: [[{ t: 'LHW1' }], [{ t: '(MW)' }]],
    datasets: () => [lineDs(lhw1_81510, BLACK, 5, 2), lineDs(lhw1_81637, RED, 4, 3), lineDs(lhw1_81660, BLUE, 4.5, 1)],
  },
  {
    label: '(f)', col: 1, row: 1, yMin: 0, yMax: 1.9, yTicks: [0, 1],
    title: [[{ t: 'LHW2' }], [{ t: '(MW)' }]],
    datasets: () => [lineDs(lhw2_81510, BLACK, 4.5, 3), lineDs(lhw2_81637, RED, 4, 2), lineDs(lhw2_81660, BLUE, 4, 1)],
  },
  {
    label: '(g)', col: 1, row: 2, yMin: 0, yMax: 5.9, yTicks: [0, 5],
    title: [[{ t: 'NBI' }], [{ t: '(MW)' }]],
    datasets: () => [lineDs(nbi_81510, BLACK, 4.5, 3), lineDs(nbi_81637, RED, 3, 2), lineDs(nbi_81660, BLUE, 3.5, 1)],
  },
  {
    label: '(h)', col: 1, row: 3, yMin: 0, yMax: 1.46, yTicks: [0, 0.5, 1],
    title: [[{ t: 'ECRH' }], [{ t: '(MW)' }]],
    datasets: () => [
      ...bandDs(ecrh_81510, BLACK, BLACK, 3),
      ...bandDs(ecrh_81637, RED, RED, 2),
      ...bandDs(ecrh_81660, BLUE, BLUE, 1),
    ],
  },
];

function drawRich(ctx: CanvasRenderingContext2D, segs: Seg[], baseX: number, centerY: number, size: number) {
  const small = Math.round(size * 0.62);
  const fontFor = (s?: string) => `bold ${s ? small : size}px ${SERIF}`;
  ctx.save();
  ctx.translate(baseX, centerY);
  ctx.rotate(-Math.PI / 2);
  let total = 0;
  segs.forEach((sg) => { ctx.font = fontFor(sg.s); total += ctx.measureText(sg.t).width; });
  let u = -total / 2;
  ctx.textAlign = 'left';
  ctx.textBaseline = 'alphabetic';
  ctx.fillStyle = TEXT;
  segs.forEach((sg) => {
    ctx.font = fontFor(sg.s);
    const v = sg.s === 'sub' ? size * 0.3 : sg.s === 'sup' ? -size * 0.42 : 0;
    ctx.fillText(sg.t, u, v);
    u += ctx.measureText(sg.t).width;
  });
  ctx.restore();
}

function makeBoxPlugin(p: any) {
  const col = COLS[p.col];
  const tx = p.titleX || col.titleX;
  return {
    id: 'matlabBox' + p.label.replace(/[()]/g, ''),
    afterDatasetsDraw(chart: any) {
      const { ctx, chartArea: a, scales } = chart;
      ctx.save();
      ctx.strokeStyle = FRAME;
      ctx.lineWidth = 2;
      ctx.beginPath();
      X_TICKS.forEach((v) => {
        const px = Math.round(scales.x.getPixelForValue(v)) + 0.5;
        ctx.moveTo(px, a.bottom); ctx.lineTo(px, a.bottom - TICK_LEN);
        ctx.moveTo(px, a.top); ctx.lineTo(px, a.top + TICK_LEN);
      });
      p.yTicks.forEach((v: number) => {
        const py = Math.round(scales.y.getPixelForValue(v)) + 0.5;
        ctx.moveTo(a.left, py); ctx.lineTo(a.left + TICK_LEN, py);
        ctx.moveTo(a.right, py); ctx.lineTo(a.right - TICK_LEN, py);
      });
      ctx.stroke();
      ctx.lineWidth = 3;
      ctx.strokeRect(a.left, a.top, a.right - a.left, a.bottom - a.top);
      ctx.fillStyle = TEXT;
      ctx.save();
      ctx.translate(a.left + 14, a.top + 28);
      ctx.scale(0.88, 1);
      ctx.font = `bold 24px ${SANS}`;
      ctx.textAlign = 'left';
      ctx.textBaseline = 'alphabetic';
      ctx.fillText(p.label, 0, 0);
      ctx.restore();
      const cy = (a.top + a.bottom) / 2;
      p.title.forEach((segs: Seg[], i: number) => drawRich(ctx, segs, tx[i], cy, TITLE_SIZE));
      ctx.restore();
    },
  };
}

function buildConfig(p: any) {
  const col = COLS[p.col];
  const isBottom = p.row === 3;
  const tickFont = { family: SERIF, size: TICK_SIZE, weight: 'bold' as const };
  return {
    type: 'line' as const,
    data: { datasets: p.datasets() },
    options: {
      animation: false,
      responsive: false,
      devicePixelRatio: 1,
      events: [],
      layout: { padding: { left: 0, right: RPAD, top: VPAD, bottom: isBottom ? 0 : VPAD } },
      plugins: { legend: { display: false }, tooltip: { enabled: false } },
      elements: { point: { radius: 0 }, line: { tension: 0 } },
      scales: {
        x: {
          type: 'linear',
          min: col.xMin,
          max: col.xMax,
          display: isBottom,
          grid: { display: false, drawTicks: false },
          border: { display: false },
          ticks: { font: tickFont, color: TEXT, padding: 9, autoSkip: false, maxRotation: 0, callback: (v: any) => String(v) },
          afterBuildTicks: (axis: any) => { axis.ticks = X_TICKS.map((v) => ({ value: v })); },
          afterFit: (s: any) => {
            s.height = isBottom ? X_AXIS_H : 0;
            s.paddingLeft = 0; s.paddingRight = 0;
          },
          title: { display: true, text: 'Time(s)', font: tickFont, color: TEXT, padding: { top: 0, bottom: 0 } },
        },
        y: {
          type: 'linear',
          min: p.yMin,
          max: p.yMax,
          grid: { display: false, drawTicks: false },
          border: { display: false },
          ticks: { font: tickFont, color: TEXT, padding: 6, autoSkip: false, callback: (v: any) => String(v) },
          afterBuildTicks: (axis: any) => { axis.ticks = p.yTicks.map((v: number) => ({ value: v })); },
          afterFit: (s: any) => { s.width = col.plotLeft - col.left; s.paddingTop = 0; s.paddingBottom = 0; },
        },
      },
    },
    plugins: [makeBoxPlugin(p)],
  };
}

function Panel({ p }: { p: any }) {
  const ref = useRef<HTMLCanvasElement>(null);
  const col = COLS[p.col];
  const row = ROWS[p.row];
  const isBottom = p.row === 3;
  const left = col.left;
  const top = row.top - VPAD;
  const w = col.plotRight + RPAD - col.left;
  const h = row.bottom - row.top + VPAD + (isBottom ? X_AXIS_H : VPAD);
  useEffect(() => {
    const chart = new Chart(ref.current as HTMLCanvasElement, buildConfig(p) as any);
    return () => chart.destroy();
  }, []);
  return (
    <canvas ref={ref} width={w} height={h}
      style={{ position: 'absolute', left, top, width: w, height: h }} />
  );
}

// legend entries: colour, line start, line length, text start, text target width
const LEGEND_ITEMS = [
  { color: BLACK, lineLeft: 20, lineW: 66, textLeft: 89, textW: 305, shot: SHOTS[0], r: null as string | null },
  { color: RED, lineLeft: 423, lineW: 63, textLeft: 489, textW: 337, shot: SHOTS[1], r: '2.35m' },
  { color: BLUE, lineLeft: 859, lineW: 65, textLeft: 933, textW: 339, shot: SHOTS[2], r: '2.36m' },
];

function LegendText({ item }: { item: any }) {
  const ref = useRef<HTMLDivElement>(null);
  useLayoutEffect(() => {
    const el = ref.current;
    if (!el) return;
    const w = el.scrollWidth;
    if (w > 0) el.style.transform = `scaleX(${item.textW / w})`;
  }, []);
  const subStyle: React.CSSProperties = { fontSize: 16, position: 'relative', top: 7 };
  return (
    <div ref={ref} style={{ position: 'absolute', left: item.textLeft, top: 4, fontFamily: SANS, fontWeight: 'bold', fontSize: 29, lineHeight: '34px', whiteSpace: 'nowrap', color: item.color, transformOrigin: '0 0', display: 'inline-block' }}>
      {item.r === null ? `Shot ${item.shot} without FLiLi` : (<>Shot {item.shot} with R<span style={subStyle}>FLiLi</span>={item.r}</>)}
    </div>
  );
}

function Legend() {
  return (
    <div>
      {LEGEND_ITEMS.map((it) => (
        <React.Fragment key={it.shot}>
          <div style={{ position: 'absolute', left: it.lineLeft, top: 20, width: it.lineW, height: 4, background: it.color }} />
          <LegendText item={it} />
        </React.Fragment>
      ))}
    </div>
  );
}

export default function App() {
  return (
    <div style={{ position: 'absolute', left: 0, top: 0, width: 1285, height: 668, background: '#fff', overflow: 'hidden' }}>
      <Legend />
      {PANELS.map((p) => <Panel key={p.label} p={p} />)}
    </div>
  );
}
